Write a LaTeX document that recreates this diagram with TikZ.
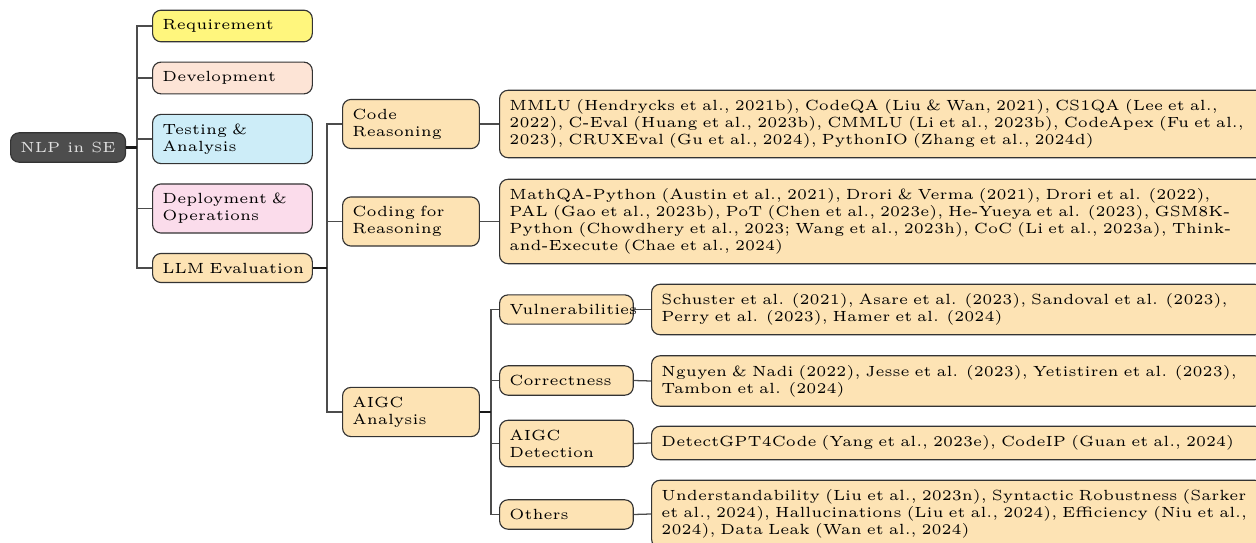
\documentclass[tikz,border=0pt]{standalone}
\definecolor{rootcol}{HTML}{4D4D4D}
\definecolor{reqcol}{HTML}{FFF67D}
\definecolor{devcol}{HTML}{FDE4D6}
\definecolor{testcol}{HTML}{CDEDF8}
\definecolor{depcol}{HTML}{FBDCEB}
\definecolor{llmcol}{HTML}{FDE3B4}
\begin{document}
\begin{tikzpicture}[x=0.353pt,y=-0.353pt,font=\fontsize{5.2}{6}\selectfont,
		catbox/.style={draw=black!80,rounded corners=3pt,inner xsep=3.5pt,inner ysep=3.3pt,align=left,anchor=west},
		lvla/.style={catbox,text width=49.4pt},
		lvlb/.style={catbox,text width=41.3pt,fill=llmcol},
		lvlc/.style={catbox,text width=40.2pt,fill=llmcol},
		leafbox/.style={catbox,fill=llmcol},
		link/.style={draw=black!70,line width=0.45pt},
		stub/.style={draw=black!90,line width=0.8pt}]
		\useasboundingbox (0,0) rectangle (1256,543);

		\node[catbox,fill=rootcol,text=white!88!black] (nlp) at (10,147.5) {NLP in SE};
		\node[lvla,fill=reqcol] (req) at (152,26) {Requirement};
		\node[lvla,fill=devcol] (dev) at (152,78) {Development};
		\node[lvla,fill=testcol] (test) at (152,139) {Testing \&\\ Analysis};
		\node[lvla,fill=depcol] (dep) at (152,208.5) {Deployment \&\\ Operations};
		\node[lvla,fill=llmcol] (llm) at (152,268) {\mbox{LLM Evaluation}};

		\node[lvlb] (coder) at (342,124) {Code\\ Reasoning};
		\node[lvlb] (codfr) at (342,221.5) {Coding for\\ Reasoning};
		\node[lvlb] (aigc) at (342,412) {AIGC\\ Analysis};

		\node[leafbox,text width=263pt] (coderl) at (499,124) {MMLU (Hendrycks et al., 2021b), CodeQA (Liu \& Wan, 2021), CS1QA (Lee et al.,\\ 2022), C-Eval (Huang et al., 2023b), CMMLU (Li et al., 2023b), CodeApex (Fu et al.,\\ 2023), CRUXEval (Gu et al., 2024), PythonIO (Zhang et al., 2024d)};
		\node[leafbox,text width=263pt] (codfrl) at (499,221.5) {MathQA-Python (Austin et al., 2021), Drori \& Verma (2021), Drori et al. (2022),\\ PAL (Gao et al., 2023b), PoT (Chen et al., 2023e), He-Yueya et al. (2023), GSM8K-\\ Python (Chowdhery et al., 2023; Wang et al., 2023h), CoC (Li et al., 2023a), Think-\\ and-Execute (Chae et al., 2024)};

		\node[lvlc] (vul) at (499,309.5) {Vulnerabilities};
		\node[lvlc] (cor) at (499,380.5) {Correctness};
		\node[lvlc] (det) at (499,443.5) {AIGC\\ Detection};
		\node[lvlc] (oth) at (499,514.5) {Others};

		\node[leafbox,text width=209pt] (vull) at (651,309.5) {Schuster et al. (2021), Asare et al. (2023), Sandoval et al. (2023),\\ Perry et al. (2023), Hamer et al. (2024)};
		\node[leafbox,text width=209pt] (corl) at (651,381) {Nguyen \& Nadi (2022), Jesse et al. (2023), Yetistiren et al. (2023),\\ Tambon et al. (2024)};
		\node[leafbox,text width=209pt] (detl) at (651,443) {DetectGPT4Code (Yang et al., 2023e), CodeIP (Guan et al., 2024)};
		\node[leafbox,text width=209pt] (othl) at (651,514) {Understandability (Liu et al., 2023n), Syntactic Robustness (Sarker\\ et al., 2024), Hallucinations (Liu et al., 2024), Efficiency (Niu et al.,\\ 2024), Data Leak (Wan et al., 2024)};

		\coordinate (t1) at (137,147.5);
		\coordinate (t2) at (327,268);
		\coordinate (t3) at (491,412);
		\foreach \c in {req,dev,test,dep,llm} { \draw[link] (t1) |- (\c.west);}
		\foreach \c in {coder,codfr,aigc} { \draw[link] (t2) |- (\c.west);}
		\foreach \c in {vul,cor,det,oth} { \draw[link] (t3) |- (\c.west);}
		\draw[stub] (nlp.east) -- (t1);
		\draw[stub] (llm.east) -- (t2);
		\draw[stub] (aigc.east) -- (t3);
		\foreach \p / \l in {coder/coderl,codfr/codfrl,vul/vull,cor/corl,det/detl,oth/othl} { \draw[link] (\p.east) -- (\l.west);}
	\end{tikzpicture}
\end{document}
